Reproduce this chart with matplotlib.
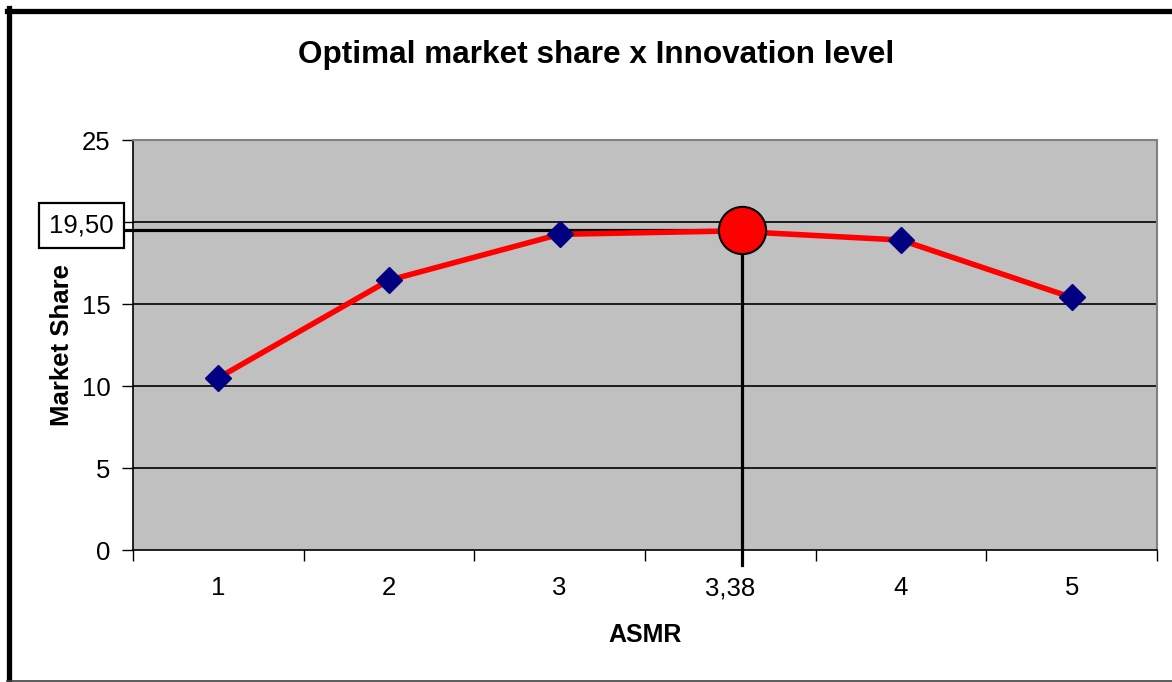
import matplotlib
matplotlib.use('Agg')
import matplotlib.pyplot as plt
from matplotlib.lines import Line2D

plt.rcParams['font.family'] = ['Liberation Sans', 'DejaVu Sans']

# data
categories = ['1', '2', '3', '3,38', '4', '5']
market_share = [10.5, 16.45, 19.25, 19.45, 18.9, 15.4]
optimum_value = 19.50
optimum_label = '19,50'
optimum_pos = 3.07          # position of the optimum on the category axis
y_ticks = [0, 5, 10, 15, 20, 25]

fig = plt.figure(figsize=(11.72, 6.82), dpi=100)
fig.patch.set_facecolor('white')
ax = fig.add_axes([133 / 1172, 132 / 682, 1024 / 1172, 410 / 682])
ax.set_facecolor('#C0C0C0')

x = list(range(len(categories)))

# markers only on the real ASMR levels
marker_idx = [i for i, c in enumerate(categories) if c != '3,38']
ax.plot(x, market_share, color='#FF0000', lw=4, zorder=3, solid_capstyle='round')
ax.plot([x[i] for i in marker_idx], [market_share[i] for i in marker_idx],
        ls='none', marker='D', ms=13, color='#000080', zorder=4)

# optimum guides
ax.plot([-0.586, optimum_pos], [optimum_value, optimum_value], color='black',
        lw=2.3, zorder=2, clip_on=False)
ax.plot([optimum_pos, optimum_pos], [optimum_value, -0.9], color='black',
        lw=2.3, zorder=2, clip_on=False)
ax.plot([optimum_pos], [optimum_value], marker='o', ms=34, mfc='#FF0000',
        mec='black', mew=1.5, zorder=5)

ax.text(-0.8, 19.77, optimum_label, fontsize=18.5, ha='center', va='center',
        bbox=dict(boxstyle='square,pad=0.4', fc='white', ec='black', lw=1.6),
        zorder=6, clip_on=False)

# axes
ax.set_xlim(-0.5, len(categories) - 0.5)
ax.set_ylim(0, 25)
ax.set_yticks(y_ticks)
# the 20 label sits under the optimum box
ax.set_yticklabels(['' if v == 20 else str(v) for v in y_ticks], fontsize=18.5)
ax.set_xticks(x)
ax.set_xticklabels(categories, fontsize=18.5)
ax.set_xticks([i - 0.5 for i in range(len(categories) + 1)], minor=True)
ax.tick_params(axis='x', which='major', length=0, pad=19)
ax.tick_params(axis='x', which='minor', length=8, width=1, color='black', direction='out')
ax.tick_params(axis='y', length=8, width=1, direction='out', pad=8)

for v in y_ticks[1:-1]:
    ax.axhline(v, color='black', lw=1.2, zorder=1)

for s in ['top', 'right']:
    ax.spines[s].set_color('#808080')
    ax.spines[s].set_linewidth(1.5)
for s in ['left', 'bottom']:
    ax.spines[s].set_color('black')
    ax.spines[s].set_linewidth(1.2)

ax.set_xlabel('ASMR', fontsize=18, fontweight='bold', labelpad=16)
ax.set_ylabel('Market Share', fontsize=18.5, fontweight='bold', labelpad=6)

fig.text(596 / 1172, 1 - 55 / 682, 'Optimal market share x Innovation level',
         fontsize=22.7, fontweight='bold', ha='center', va='center')

# outer chart frame (partly cut off)
fig.add_artist(Line2D([9.5 / 1172, 9.5 / 1172], [1 - 8 / 682, 0], color='black',
                      lw=3.8, transform=fig.transFigure))
fig.add_artist(Line2D([7 / 1172, 1], [1 - 10.5 / 682, 1 - 10.5 / 682], color='black',
                      lw=3.8, transform=fig.transFigure))
fig.add_artist(Line2D([7 / 1172, 1], [1.5 / 682, 1.5 / 682], color='#404040',
                      lw=1.2, transform=fig.transFigure))

fig.savefig('out.png', dpi=100, facecolor='white')
